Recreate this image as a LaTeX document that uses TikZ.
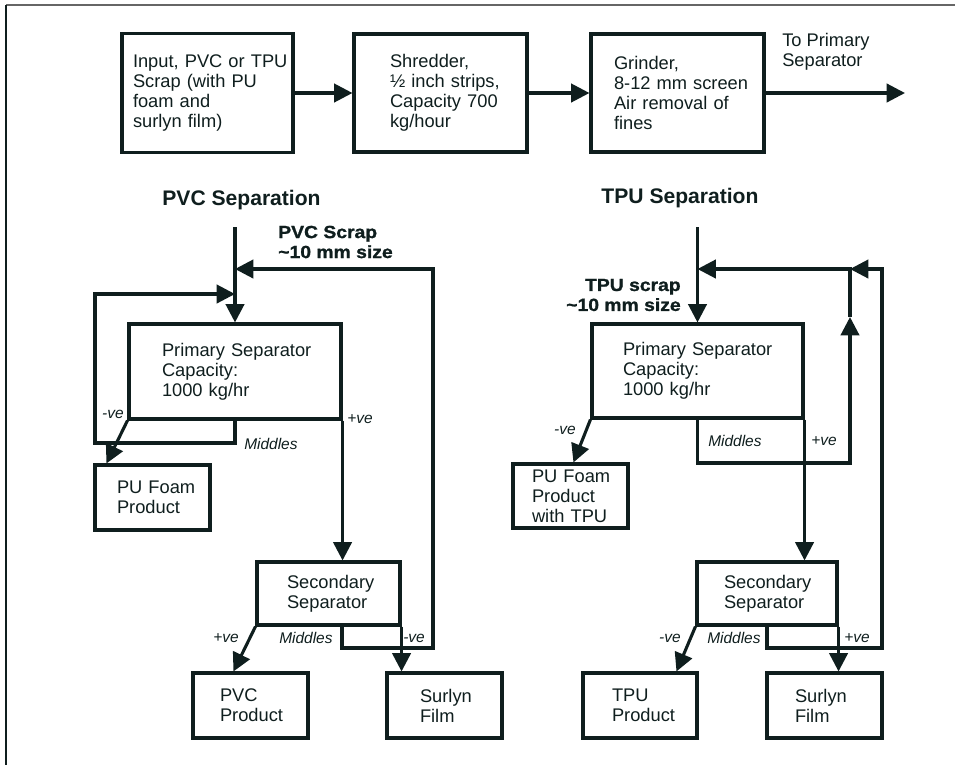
\documentclass[tikz,border=0pt]{standalone}
\usepackage{fontspec}
\setmainfont{Liberation Sans}
\newfontfamily\heavyfont{Liberation Sans}[FakeStretch=1.1, BoldFeatures={FakeBold=1.2}]
\usepackage{tikz}
\usetikzlibrary{calc, arrows.meta}

\definecolor{ink}{HTML}{0F1E1E}
\newcommand\boxfont{\fontsize{13}{14.2}\selectfont}

\begin{document}
\begin{tikzpicture}[x=0.025cm, y=-0.025cm,
        box/.code n args={3}{%
            \pgfmathsetlengthmacro\bxw{#1*0.025cm}%
            \pgfmathsetlengthmacro\bxh{#2*0.025cm}%
            \pgfmathsetlengthmacro\bxi{#3*0.025cm}%
            \pgfkeysalso{rectangle, draw=ink, line width=2.2pt, text=ink,
                minimum width=\bxw, minimum height=\bxh, text width=\bxw,
                inner xsep=0pt, inner ysep=0pt, align=left, font=\boxfont,
                execute at begin node={\leftskip=\bxi}}},
        note/.style={inner sep=0pt, text=ink, align=left, font=\boxfont},
        head/.style={inner sep=0pt, text=ink, font=\fontsize{15}{18}\selectfont\bfseries},
        feed/.style={inner sep=0pt, text=ink, font=\heavyfont\fontsize{12.5}{14.2}\selectfont\bfseries},
        tag/.style={inner sep=0pt, text=ink, font=\fontsize{11}{13}\selectfont\itshape},
        wire/.style={draw=ink, line width=2.2pt},
        flow/.style={wire, -{Triangle[length=13pt, width=13pt]}}
    ]
    \useasboundingbox (0,0) rectangle (955,765);
    \draw[gray!80!black, line width=0.9pt] (6,5) -- (955,5);
    \draw[ink, line width=0.9pt] (6,5) -- (6,765);

    % feed line
    \node[box={171}{119}{11}] (input) at (207.5,93) {Input, PVC or TPU\\Scrap (with PU\\foam and\\surlyn film)};
    \node[box={173}{118}{36}] (shred) at (440.5,93) {Shredder,\\½ inch strips,\\Capacity 700\\kg/hour};
    \node[box={173}{118}{23}] (grind) at (677.5,93) {Grinder,\\8-12 mm screen\\Air removal of\\fines};
    \node[note, anchor=west] (dest) at (782,52) {To Primary\\Separator};
    \coordinate (out) at (905,93);
    \draw[flow] (input) -- (shred);
    \draw[flow] (shred) -- (grind);
    \draw[flow] (grind) -- (out);

    % PVC separation
    \node[head] (pvchead) at (241.5,200) {PVC Separation};
    \node[feed, anchor=west, align=left] (pvcfeed) at (278,242) {PVC Scrap\\\textasciitilde10 mm size};
    \node[box={212}{95}{33}] (pvcps) at (235,371.5) {Primary Separator\\Capacity:\\1000 kg/hr};
    \node[box={115}{65}{22}] (pvcpu) at (152.5,497.5) {PU Foam\\Product};
    \node[box={143}{63}{30}] (pvcss) at (328.5,593.5) {Secondary\\Separator};
    \node[box={115}{65}{27}] (pvcpp) at (250.5,705.5) {PVC\\Product};
    \node[box={115}{65}{33}] (pvcsf) at (444.5,705.5) {Surlyn\\Film};
    \coordinate (pvcin) at (235,227);
    \coordinate (pvcret) at (235,269);
    \coordinate (pvcmid) at (235,294);
    \coordinate (pvcl) at (95,443);
    \coordinate (pvcsm) at (342,625);
    \coordinate (pvcr) at (433,648);
    \draw[flow] (pvcin) -- (pvcps);
    \draw[flow] (pvcps.south) |- (pvcl) |- (pvcmid);
    \draw[flow] (pvcsm) |- (pvcr) |- (pvcret);
    \draw[flow] (pvcps.south west) -- ($(pvcpu.north west)+(13,0)$);
    \draw[flow] (pvcps.south east) -- (pvcps.south east |- pvcss.north);
    \draw[flow] (pvcss.south west) -- ($(pvcpp.north west)+(42,0)$);
    \draw[flow] (pvcss.south east) -- (pvcss.south east |- pvcsf.north);
    \node[tag, anchor=east] (pvcneg) at (124,414) {-ve};
    \node[tag, anchor=west] (pvcmidl) at (244,444) {Middles};
    \node[tag, anchor=west] (pvcpos) at (347,419) {+ve};
    \node[tag, anchor=east] (pvcpos2) at (239,638) {+ve};
    \node[tag, anchor=west] (pvcmid2) at (279,638) {Middles};
    \node[tag, anchor=west] (pvcneg2) at (403,638) {-ve};

    % TPU separation
    \node[head] (tpuhead) at (680,198) {TPU Separation};
    \node[feed, anchor=east, align=right] (tpufeed) at (681,295) {TPU scrap\\\textasciitilde10 mm size};
    \node[box={211}{94}{31}] (tpups) at (697.5,371) {Primary Separator\\Capacity:\\1000 kg/hr};
    \node[box={115}{64}{19}] (tpupu) at (570.5,496) {PU Foam\\Product\\with TPU};
    \node[box={140}{63}{27}] (tpuss) at (767,593.5) {Secondary\\Separator};
    \node[box={114}{65}{29}] (tpupp) at (640,705.5) {TPU\\Product};
    \node[box={115}{65}{28}] (tpusf) at (824.5,705.5) {Surlyn\\Film};
    \coordinate (tpuin) at (697.5,227);
    \coordinate (tpuret) at (697.5,269);
    \coordinate (tpul) at (850,463);
    \coordinate (tpuup) at (850,317);
    \coordinate (tpujn) at (850,269);
    \coordinate (tpur) at (882,648);
    \draw[flow] (tpuin) -- (tpups);
    \draw[flow] (tpups.south) |- (tpul) -- (tpuup);
    \draw[flow] (tpuup) -- (tpujn) -- (tpuret);
    \draw[flow] (tpuss.south) |- (tpur) |- (tpujn);
    \draw[flow] (tpups.south west) -- ($(tpupu.north west)+(62,0)$);
    \draw[flow] (tpups.south east) -- (tpups.south east |- tpuss.north);
    \draw[flow] (tpuss.south west) -- ($(tpupp.north west)+(95,0)$);
    \draw[flow] (tpuss.south east) -- (tpuss.south east |- tpusf.north);
    \node[tag, anchor=east] (tpuneg) at (576,430) {-ve};
    \node[tag, anchor=west] (tpumidl) at (708,441) {Middles};
    \node[tag, anchor=west] (tpupos) at (811,441) {+ve};
    \node[tag, anchor=east] (tpuneg2) at (681,638) {-ve};
    \node[tag, anchor=west] (tpumid2) at (707,638) {Middles};
    \node[tag, anchor=west] (tpupos2) at (844,638) {+ve};
\end{tikzpicture}
\end{document}
